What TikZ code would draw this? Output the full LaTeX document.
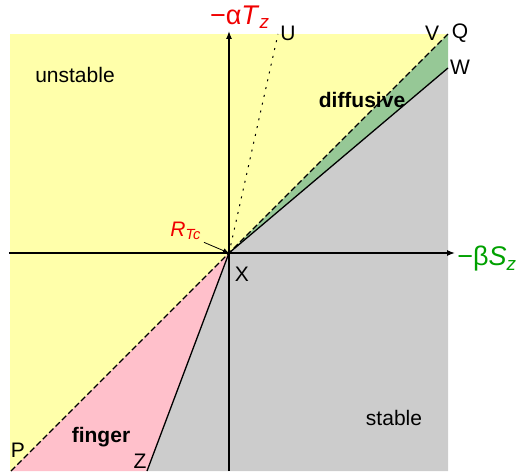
\documentclass[tikz,border=0pt]{standalone}
\usepackage{fontspec}
\setmainfont{Liberation Sans}
\usepackage{xcolor}
\usetikzlibrary{arrows.meta,positioning}
\definecolor{unstyellow}{RGB}{255,255,170}
\definecolor{fingpink}{RGB}{255,192,203}
\definecolor{diffgreen}{RGB}{150,200,150}
\definecolor{stabgray}{RGB}{204,204,204}
\definecolor{axisred}{RGB}{240,0,0}
\definecolor{axisgreen}{RGB}{0,160,0}
\newcommand{\lbl}[1]{\fontsize{10.5}{12}\selectfont #1}

\begin{document}
\begin{tikzpicture}[
    x=0.5pt,y=0.5pt,
    region/.style={draw=none},
    ray/.style={line width=0.65pt,black},
    axis/.style={-{Latex[length=4pt,width=3pt]},line width=0.65pt,black},
    tag/.style={inner sep=1pt,font=\lbl},
    axlabel/.style={inner sep=0pt,font=\fontsize{13.5}{16}\selectfont}
  ]
    \useasboundingbox (-229,-218) rectangle (288,253);

    % corner points
    \coordinate (X) at (0,0);
    \coordinate (SW) at (-219,-218);
    \coordinate (NE) at (219,219);
    \coordinate (P) at (-218,-218);
    \coordinate (Q) at (219,219);
    \coordinate (W) at (219,185);
    \coordinate (Z) at (-82,-218);
    \coordinate (U) at (49,219);
    \coordinate (SE) at (219,-218);

    % regions
    \fill[unstyellow] (SW) rectangle (NE);
    \fill[fingpink] (X) -- (P) -- (Z) -- cycle;
    \fill[stabgray] (X) -- (W) -- (SE) -- (Z) -- cycle;
    \fill[diffgreen] (X) -- (Q) -- (W) -- cycle;

    % boundaries
    \draw[ray,dash pattern=on 3pt off 1.5pt] (P) -- (Q);
    \draw[ray] (X) -- (W);
    \draw[ray] (X) -- (Z);
    \draw[ray,line width=0.5pt,dash pattern=on 1pt off 3pt] (X) -- (U);

    % axes
    \coordinate (xl) at (-220,0);
    \coordinate (xr) at (226,0);
    \coordinate (yb) at (0,-218);
    \coordinate (yt) at (0,222);
    \draw[axis] (xl) -- (xr);
    \draw[axis] (yb) -- (yt);
    \node[axlabel,text=axisred,anchor=south] (aT) at (11,224) {−α\textit{T}\textsubscript{\textit{z}}};
    \node[axlabel,text=axisgreen,anchor=west] (bS) at (228,-6) {−β\textit{S}\textsubscript{\textit{z}}};

    % point labels
    \node[tag] (xlab) at (13,-21) {X};
    \node[tag] (ulab) at (59,220) {U};
    \node[tag] (vlab) at (203,220) {V};
    \node[tag] (qlab) at (231,220) {Q};
    \node[tag] (wlab) at (231,186) {W};
    \node[tag] (plab) at (-211,-197) {P};
    \node[tag] (zlab) at (-89,-208) {Z};

    % regime labels
    \node[tag] (unst) at (-154,178) {unstable};
    \node[tag,font=\lbl\bfseries] (diff) at (133,153) {diffusive};
    \node[tag,font=\lbl\bfseries] (fing) at (-128,-184) {finger};
    \node[tag] (stab) at (165,-165) {stable};

    \node[tag,text=axisred] (rtc) at (-43,22) {\textit{R}\textsubscript{\textit{Tc}}};
    \draw[-{Latex[length=3pt,width=2.5pt]},thin] (rtc.south east) -- (X);
  \end{tikzpicture}
\end{document}
